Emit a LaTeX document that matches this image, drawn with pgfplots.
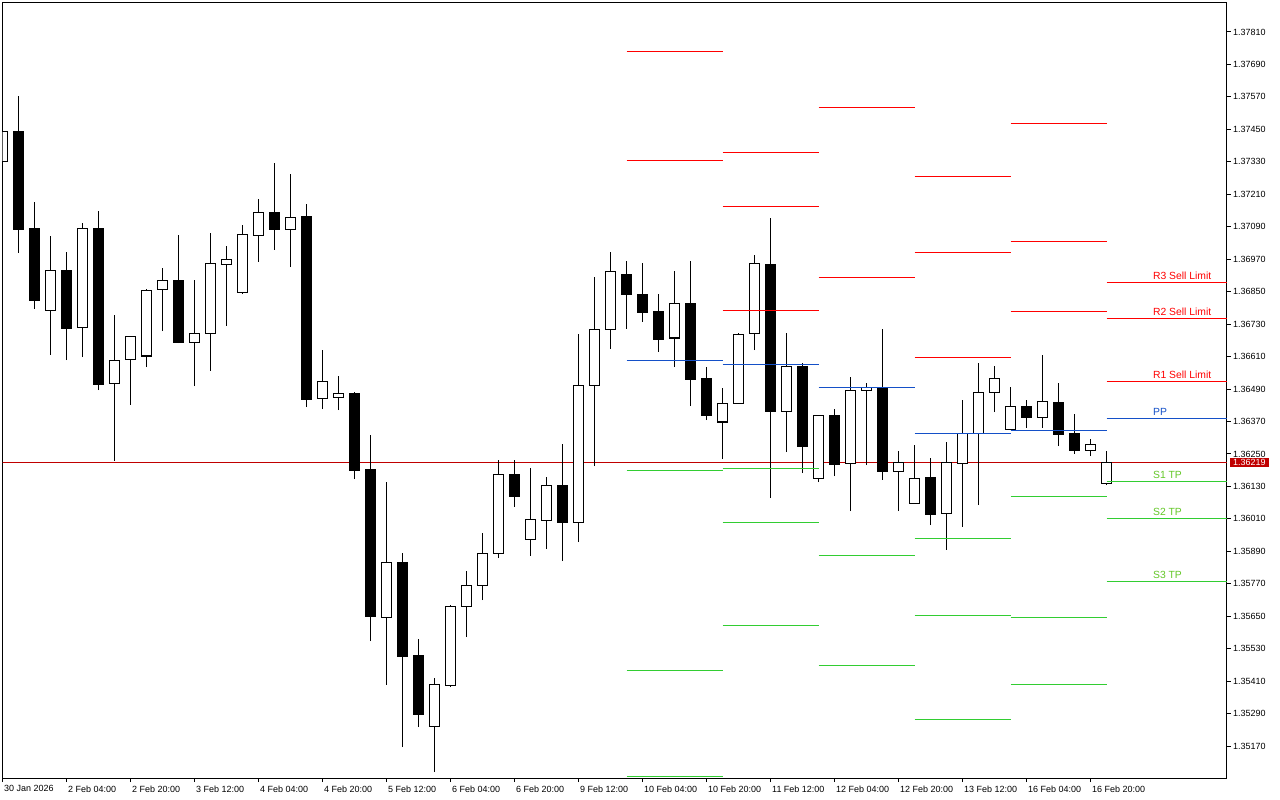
\documentclass[border=0pt]{standalone}
\usepackage{fontspec}
\setmainfont{Liberation Sans}
\usepackage{pgfplots}
\usepackage{pgfplotstable}
\pgfplotsset{compat=1.18}

\definecolor{pvred}{RGB}{255,0,0}
\definecolor{pvblue}{RGB}{20,80,200}
\definecolor{pvgreen}{RGB}{50,205,50}
\definecolor{bidred}{RGB}{192,0,0}
\definecolor{labgreen}{RGB}{100,200,40}

% GBPUSD-like H4 candles, x = bar index (0 = 30 Jan 12:00)
% white (bullish) candles
\pgfplotstableread{
x O H L C
0 1.37333 1.37444 1.37333 1.37444
3 1.36782 1.37056 1.36616 1.36930
5 1.36719 1.37104 1.36608 1.37085
7 1.36512 1.36764 1.36224 1.36597
8 1.36597 1.36682 1.36431 1.36682
9 1.36612 1.36860 1.36571 1.36856
10 1.36860 1.36937 1.36704 1.36893
12 1.36664 1.36893 1.36501 1.36697
13 1.36697 1.37067 1.36557 1.36956
14 1.36952 1.37019 1.36723 1.36971
15 1.36849 1.37096 1.36841 1.37063
16 1.37059 1.37193 1.36960 1.37144
18 1.37082 1.37285 1.36941 1.37126
20 1.36457 1.36634 1.36416 1.36520
21 1.36460 1.36538 1.36412 1.36475
24 1.35647 1.36146 1.35396 1.35850
27 1.35244 1.35421 1.35074 1.35396
28 1.35396 1.35691 1.35388 1.35688
29 1.35688 1.35817 1.35573 1.35765
30 1.35765 1.35958 1.35710 1.35884
31 1.35884 1.36227 1.35865 1.36176
33 1.35935 1.36198 1.35873 1.36009
34 1.36006 1.36165 1.35898 1.36135
36 1.35998 1.36693 1.35924 1.36505
37 1.36505 1.36904 1.36205 1.36712
38 1.36712 1.36997 1.36638 1.36926
42 1.36679 1.36926 1.36571 1.36808
45 1.36368 1.36494 1.36231 1.36438
46 1.36438 1.36697 1.36438 1.36693
47 1.36693 1.36985 1.36634 1.36952
49 1.36409 1.36697 1.36257 1.36575
51 1.36161 1.36394 1.36146 1.36394
53 1.36216 1.36534 1.36039 1.36486
54 1.36486 1.36512 1.36209 1.36494
56 1.36187 1.36261 1.36039 1.36220
57 1.36065 1.36283 1.36065 1.36161
59 1.36032 1.36294 1.35895 1.36220
60 1.36216 1.36449 1.35980 1.36327
61 1.36327 1.36586 1.36061 1.36479
62 1.36479 1.36575 1.36405 1.36531
63 1.36342 1.36497 1.36342 1.36427
65 1.36386 1.36616 1.36346 1.36446
68 1.36264 1.36305 1.36242 1.36287
69 1.36142 1.36261 1.36135 1.36219
}\bull

% black (bearish) candles
\pgfplotstableread{
x O H L C
1 1.37444 1.37573 1.36993 1.37082
2 1.37085 1.37181 1.36786 1.36819
4 1.36930 1.36997 1.36597 1.36712
6 1.37085 1.37148 1.36486 1.36508
11 1.36893 1.37059 1.36660 1.36664
17 1.37144 1.37326 1.37004 1.37078
19 1.37130 1.37174 1.36423 1.36453
22 1.36475 1.36479 1.36157 1.36190
23 1.36194 1.36320 1.35558 1.35651
25 1.35850 1.35884 1.35166 1.35503
26 1.35506 1.35566 1.35240 1.35288
32 1.36176 1.36227 1.36054 1.36094
35 1.36135 1.36287 1.35854 1.35998
39 1.36915 1.36963 1.36712 1.36838
40 1.36841 1.36956 1.36738 1.36775
41 1.36778 1.36841 1.36627 1.36675
43 1.36808 1.36963 1.36427 1.36527
44 1.36531 1.36571 1.36375 1.36394
48 1.36952 1.37122 1.36087 1.36409
50 1.36575 1.36586 1.36179 1.36279
52 1.36394 1.36416 1.36168 1.36213
55 1.36494 1.36712 1.36154 1.36187
58 1.36165 1.36235 1.35987 1.36028
64 1.36427 1.36449 1.36346 1.36386
66 1.36442 1.36512 1.36279 1.36324
67 1.36327 1.36398 1.36250 1.36264
}\bear

\begin{document}
\begin{tikzpicture}
\useasboundingbox[fill=white] (0,0) rectangle (1280bp,-800bp);
\begin{axis}[
  at={(2.5bp,-3bp)}, anchor=north west,
  scale only axis, width=1224.5bp, height=775bp,
  xmin=0, xmax=76.53,
  ymin=1.35052, ymax=1.37917,
  axis line style={black, line width=1bp},
  unbounded coords=jump,
  clip mode=individual,
  tick align=outside,
  major tick length=4bp,
  tick style={black, line width=1bp},
  xtick pos=bottom,
  ytick pos=right,
  yticklabel pos=right,
  xtick={0,4,...,68},
  xticklabels={30 Jan 2026, 2 Feb 04:00, 2 Feb 20:00, 3 Feb 12:00,
    4 Feb 04:00, 4 Feb 20:00, 5 Feb 12:00, 6 Feb 04:00, 6 Feb 20:00,
    9 Feb 12:00, 10 Feb 04:00, 10 Feb 20:00, 11 Feb 12:00, 12 Feb 04:00,
    12 Feb 20:00, 13 Feb 12:00, 16 Feb 04:00, 16 Feb 20:00},
  ytick={1.35170,1.35290,1.35410,1.35530,1.35650,1.35770,1.35890,
    1.36010,1.36130,1.36250,1.36370,1.36490,1.36610,1.36730,1.36850,
    1.36970,1.37090,1.37210,1.37330,1.37450,1.37570,1.37690,1.37810},
  yticklabel={\pgfmathprintnumber[fixed, fixed zerofill, precision=5]{\tick}},
  /pgf/number format/assume math mode=true,
  ticklabel style={font=\fontsize{9}{10}\selectfont, inner sep=0pt},
  xticklabel style={anchor=north west, xshift=1.5bp, yshift=-3.5bp},
  yticklabel style={anchor=west, xshift=2bp},
]
% bid line
\addplot[bidred, line width=1bp, forget plot] coordinates {(-1,1.36219) (80,1.36219)};

% wicks
\addplot[draw=none, mark=none, forget plot, error bars/.cd, y dir=plus, y explicit,
  error mark=none, error bar style={draw=black, line width=1bp}]
  table[x=x, y=L, y error expr={\thisrow{H}-\thisrow{L}}] {\bull};
\addplot[draw=none, mark=none, forget plot, error bars/.cd, y dir=plus, y explicit,
  error mark=none, error bar style={draw=black, line width=1bp}]
  table[x=x, y=L, y error expr={\thisrow{H}-\thisrow{L}}] {\bear};
% bodies
\addplot[draw=none, mark=none, forget plot, error bars/.cd, y dir=both, y explicit,
  error mark=none, error bar style={draw=black, line width=11bp}]
  table[x=x, y expr={(\thisrow{O}+\thisrow{C})/2}, y error expr={abs(\thisrow{C}-\thisrow{O})/2+0.000018}] {\bear};
\addplot[draw=none, mark=none, forget plot, error bars/.cd, y dir=both, y explicit,
  error mark=none, error bar style={draw=black, line width=11bp}]
  table[x=x, y expr={(\thisrow{O}+\thisrow{C})/2}, y error expr={abs(\thisrow{C}-\thisrow{O})/2+0.000018}] {\bull};
\addplot[draw=none, mark=none, forget plot, error bars/.cd, y dir=both, y explicit,
  error mark=none, error bar style={draw=white, line width=9bp}]
  table[x=x, y expr={(\thisrow{O}+\thisrow{C})/2}, y error expr={max(abs(\thisrow{C}-\thisrow{O})/2-0.000020,0)}] {\bull};

% daily pivot levels
\addplot[pvred, line width=1bp, forget plot] coordinates {
(39,1.37737) (45,1.37737) (45,nan)
(39,1.37333) (45,1.37333) (45,nan)
(45,1.37363) (51,1.37363) (51,nan)
(45,1.37163) (51,1.37163) (51,nan)
(45,1.36782) (51,1.36782) (51,nan)
(51,1.37529) (57,1.37529) (57,nan)
(51,1.36904) (57,1.36904) (57,nan)
(57,1.37274) (63,1.37274) (63,nan)
(57,1.36993) (63,1.36993) (63,nan)
(57,1.36605) (63,1.36605) (63,nan)
(63,1.37470) (69,1.37470) (69,nan)
(63,1.37034) (69,1.37034) (69,nan)
(63,1.36778) (69,1.36778) (69,nan)
(69,1.36885) (80,1.36885) (80,nan)
(69,1.36751) (80,1.36751) (80,nan)
(69,1.36518) (80,1.36518)
};
\addplot[pvblue, line width=1bp, forget plot] coordinates {
(39,1.36594) (45,1.36594) (45,nan)
(45,1.36579) (51,1.36579) (51,nan)
(51,1.36497) (57,1.36497) (57,nan)
(57,1.36324) (63,1.36324) (63,nan)
(63,1.36338) (69,1.36338) (69,nan)
(69,1.36382) (80,1.36382)
};
\addplot[pvgreen, line width=1bp, forget plot] coordinates {
(39,1.36190) (45,1.36190) (45,nan)
(39,1.35451) (45,1.35451) (45,nan)
(39,1.35056) (45,1.35056) (45,nan)
(45,1.36198) (51,1.36198) (51,nan)
(45,1.35998) (51,1.35998) (51,nan)
(45,1.35614) (51,1.35614) (51,nan)
(51,1.35873) (57,1.35873) (57,nan)
(51,1.35469) (57,1.35469) (57,nan)
(57,1.35939) (63,1.35939) (63,nan)
(57,1.35654) (63,1.35654) (63,nan)
(57,1.35270) (63,1.35270) (63,nan)
(63,1.36091) (69,1.36091) (69,nan)
(63,1.35647) (69,1.35647) (69,nan)
(63,1.35399) (69,1.35399) (69,nan)
(69,1.36149) (80,1.36149) (80,nan)
(69,1.36012) (80,1.36012) (80,nan)
(69,1.35777) (80,1.35777)
};

\begin{scope}[font=\fontsize{10.4}{12}\selectfont]
\node[anchor=base west, inner sep=0pt, text=pvred, yshift=3bp] at (axis cs:71.9,1.36885) {R3 Sell Limit};
\node[anchor=base west, inner sep=0pt, text=pvred, yshift=3bp] at (axis cs:71.9,1.36751) {R2 Sell Limit};
\node[anchor=base west, inner sep=0pt, text=pvred, yshift=3bp] at (axis cs:71.9,1.36518) {R1 Sell Limit};
\node[anchor=base west, inner sep=0pt, text=pvblue, yshift=3bp] at (axis cs:71.9,1.36382) {PP};
\node[anchor=base west, inner sep=0pt, text=labgreen, yshift=3bp] at (axis cs:71.9,1.36149) {S1 TP};
\node[anchor=base west, inner sep=0pt, text=labgreen, yshift=3bp] at (axis cs:71.9,1.36012) {S2 TP};
\node[anchor=base west, inner sep=0pt, text=labgreen, yshift=3bp] at (axis cs:71.9,1.35777) {S3 TP};
\end{scope}
\coordinate (bid) at (axis cs:76.53,1.36219);
\end{axis}
\node[anchor=west, fill=bidred, text=white, inner xsep=3.5bp, inner ysep=1.5bp,
  font=\fontsize{9}{10}\selectfont, xshift=2.5bp] at (bid) {1.36219};
\end{tikzpicture}
\end{document}
